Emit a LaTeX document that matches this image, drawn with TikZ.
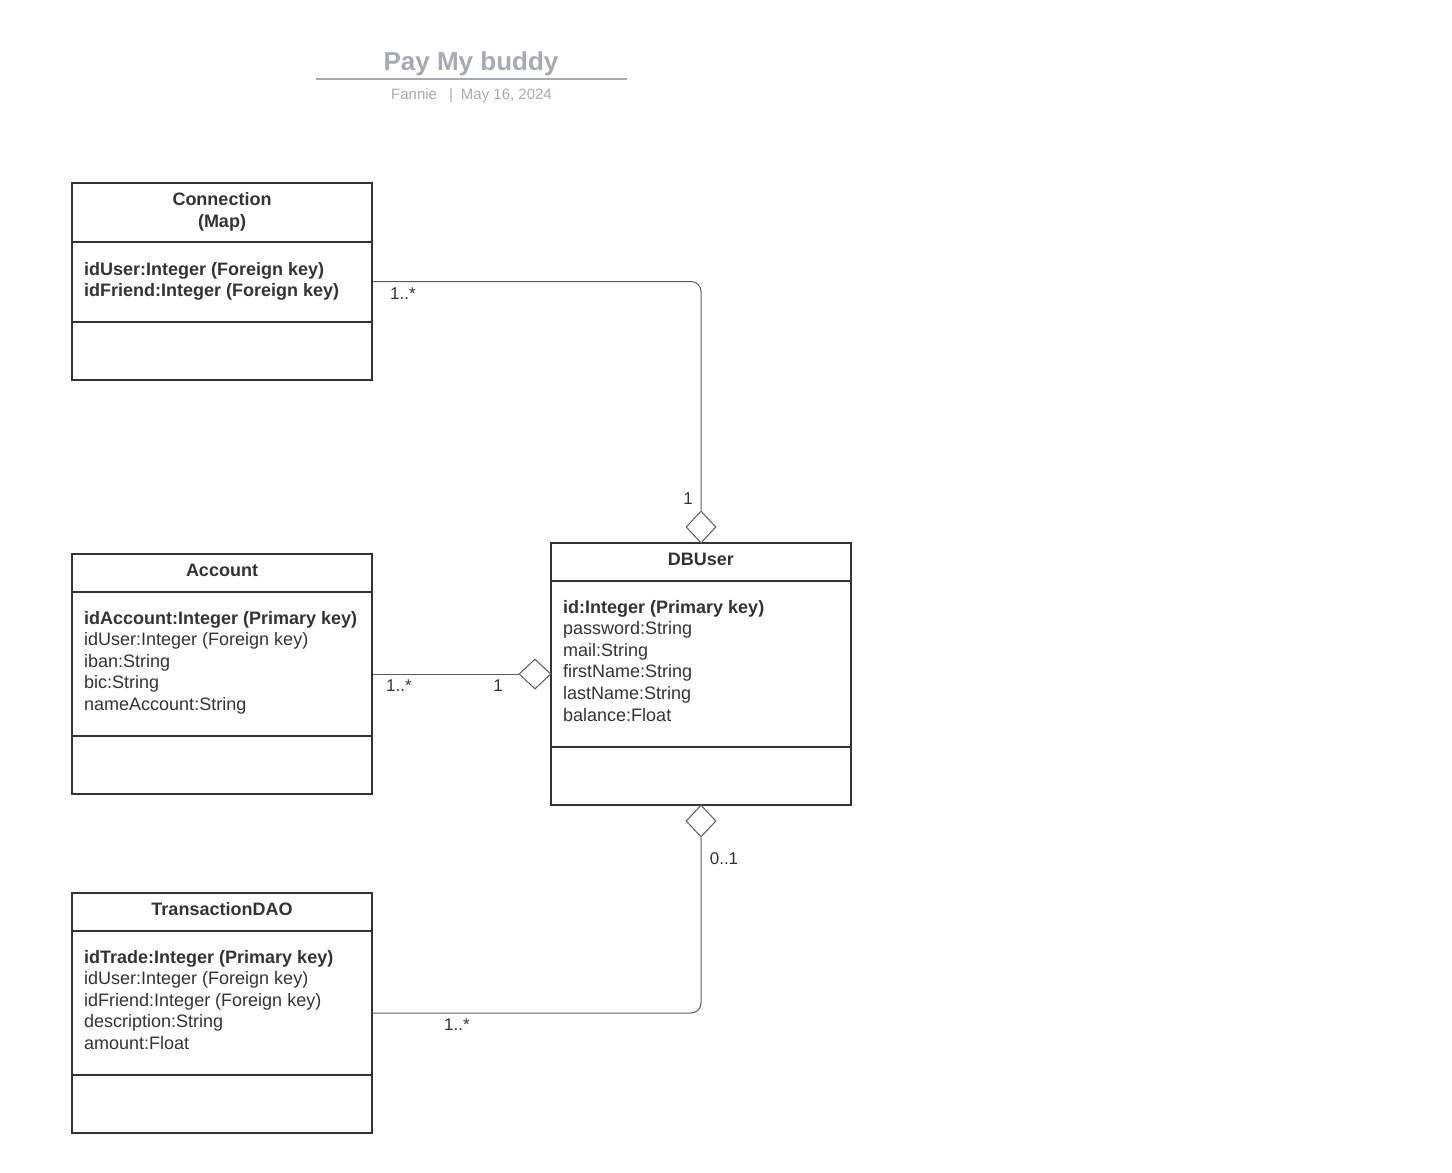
\documentclass[tikz,border=0pt]{standalone}
\usepackage{fontspec}
\setmainfont{Liberation Sans}
\usetikzlibrary{shapes.geometric}
\definecolor{ink}{HTML}{333333}
\definecolor{wire}{HTML}{5A5A5A}
\definecolor{titlegray}{HTML}{A5AAB4}
\tikzset{
  classbox/.style={draw=ink, line width=2pt, minimum width=300pt, inner sep=0pt},
  divider/.style={draw=ink, line width=2pt},
  hdr/.style={anchor=base, text=ink, font=\fontsize{18}{21.6}\selectfont\bfseries, inner sep=0pt},
  attrs/.style={anchor=base west, text=ink, align=left, font=\fontsize{18}{21.6}\selectfont, inner sep=0pt},
  mult/.style={anchor=center, text=ink, font=\fontsize{17}{20}\selectfont, inner sep=0pt},
  agg/.style={draw=wire, line width=1pt, fill=white, shape=diamond, minimum width=30pt, minimum height=32pt, inner sep=0pt},
  wireline/.style={draw=wire, line width=1pt, rounded corners=10pt},
}
\begin{document}
\begin{tikzpicture}[x=1pt,y=-1pt]
\useasboundingbox (0,0) rectangle (1452,1173);
% title
\node[anchor=base, text=titlegray, font=\fontsize{26}{30}\selectfont\bfseries, inner sep=0pt] (title) at (471,70) {Pay My buddy};
\draw[titlegray, line width=2pt] (316,79) -- (627,79);
\node[anchor=base, text=titlegray, font=\fontsize{15}{18}\selectfont, inner sep=0pt] (sub) at (471.5,99.5) {Fannie\hspace{12pt}|\hspace{8pt}May 16, 2024};

% boxes
\node[classbox, minimum height=197pt] (conn) at (222,281.5) {};
\node[classbox, minimum height=240pt] (acc) at (222,674) {};
\node[classbox, minimum height=262pt] (user) at (701,674) {};
\node[classbox, minimum height=240pt] (trans) at (222,1013) {};

% dividers
\draw[divider] (72,242) -- (372,242);
\draw[divider] (72,322) -- (372,322);
\draw[divider] (72,592) -- (372,592);
\draw[divider] (72,736) -- (372,736);
\draw[divider] (551,581) -- (851,581);
\draw[divider] (551,747) -- (851,747);
\draw[divider] (72,931) -- (372,931);
\draw[divider] (72,1075) -- (372,1075);

% headers
\node[hdr] (connh1) at (222,205.5) {Connection};
\node[hdr] (connh2) at (222,227.5) {(Map)};
\node[hdr] (acch) at (222,576.5) {Account};
\node[hdr] (userh) at (701,565.5) {DBUser};
\node[hdr] (transh) at (222,915.5) {TransactionDAO};

% attributes (anchor = baseline of the last line)
\node[attrs] (conna) at (84,296.6) {\textbf{idUser:Integer (Foreign key)}\\\textbf{idFriend:Integer (Foreign key)}};
\node[attrs] (acca) at (84,710.4) {\textbf{idAccount:Integer (Primary key)}\\idUser:Integer (Foreign key)\\iban:String\\bic:String\\nameAccount:String};
\node[attrs] (usera) at (563,721) {\textbf{id:Integer (Primary key)}\\password:String\\mail:String\\firstName:String\\lastName:String\\balance:Float};
\node[attrs] (transa) at (84,1049.4) {\textbf{idTrade:Integer (Primary key)}\\idUser:Integer (Foreign key)\\idFriend:Integer (Foreign key)\\description:String\\amount:Float};

% aggregation diamonds
\node[agg] (d1) at (701,527) {};
\node[agg, minimum width=32pt, minimum height=30pt] (d2) at (535,674) {};
\node[agg] (d3) at (701,821) {};

% connectors
\draw[wireline] (conn.east) -| (d1.north);
\draw[wireline] (acc.east) -- (d2.west);
\draw[wireline] (d3.south) |- (trans.east);

% multiplicities
\node[mult] (m1) at (403,294) {1..*};
\node[mult] (m2) at (688,499) {1};
\node[mult] (m3) at (399,686) {1..*};
\node[mult] (m4) at (498,686) {1};
\node[mult] (m5) at (724,859) {0..1};
\node[mult] (m6) at (457,1025) {1..*};
\end{tikzpicture}
\end{document}
